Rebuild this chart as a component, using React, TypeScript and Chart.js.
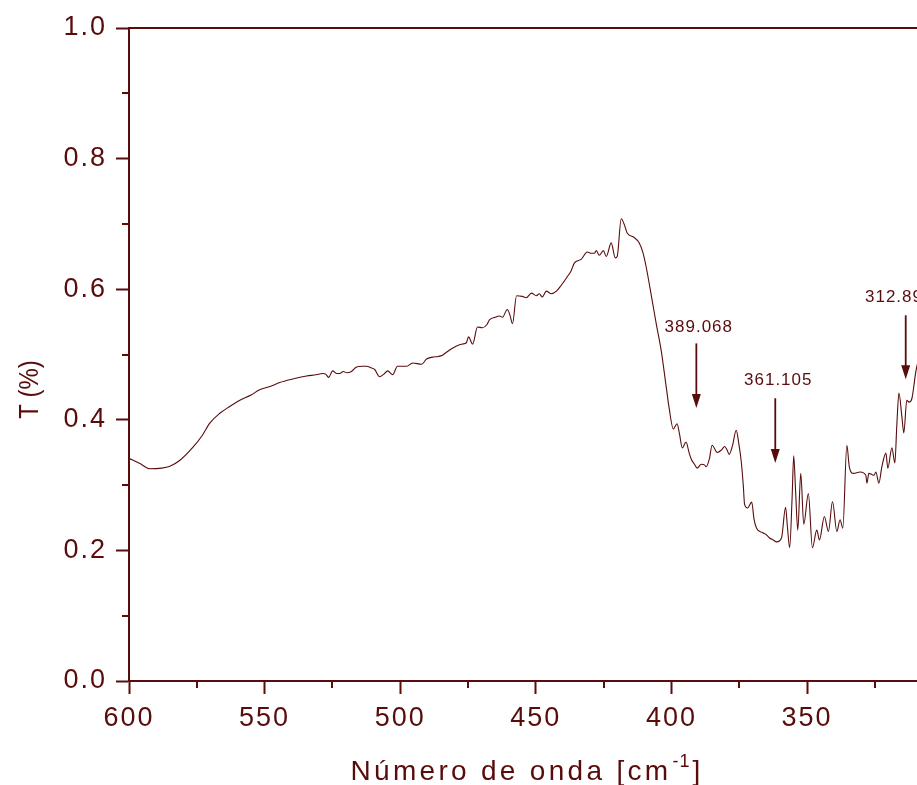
import React, { useEffect, useRef } from 'react';
import { Chart, registerables } from 'chart.js';

Chart.register(...registerables);

// Wavenumber (cm^-1), descending as plotted left -> right
const wavenumbers = [
  600, 596, 592.3, 588, 584.9, 581.2, 576.4, 573, 570.2, 566.5, 563, 559.1, 555, 551.8, 548, 544.4,
  540, 534.5, 531, 528.6, 527.5, 526.4, 524.9, 523.5, 522.3, 521, 519.7, 518, 516.1, 514, 512.4, 511,
  509.4, 507.6, 506, 504.6, 502.8, 501, 499, 497.6, 495.4, 492.1, 490.3, 488.1, 486, 484.4, 481.8,
  479.2, 477, 475.6, 474.8, 473.3, 471.5, 469.7, 468, 467.1, 465, 463.4, 462.3, 460.5, 459.5, 458.6,
  457.1, 455, 453.5, 451.6, 449.8, 448.7, 447.6, 446.1, 444.3, 442.4, 440.6, 438.4, 437, 435.8, 433.2,
  431, 429.5, 428.4, 427.7, 426.6, 425.1, 424, 422.2, 420.7, 420, 418.5, 417.2, 416.3, 414, 411.9,
  410.5, 409.3, 407.1, 405.5, 403.8, 401.9, 400.8, 399.3, 397.9, 397, 396, 394.6, 393.5, 392.7, 391.5,
  390.5, 389.0, 387.8, 387.2, 386, 385.0, 383.1, 381.5, 380.4, 379.5, 378.7, 377.5, 376.1, 375.2,
  374.3, 373.5, 373.0, 371.9, 370.4, 369.5, 368.6, 366.3, 365, 363.8, 362.5, 361.2, 359.4, 357.9,
  357.2, 356.4, 355.5, 354.9, 354.2, 353.4, 352.3, 351.2, 349.5, 348.0, 346.4, 345.4, 343.6, 342.1,
  340.6, 339.0, 337.8, 336.8, 335.3, 334.4, 332.9, 330.4, 328.3, 327.9, 327.2, 326, 325.3, 324.6,
  323.5, 322.4, 320.9, 320.2, 318.7, 317.6, 316.9, 316.1, 315.0, 314.3, 313.2, 312.4, 311.3, 309.9,
  308.5,
];

// Transmittance (fraction)
const transmittance = [
  0.341, 0.333, 0.325, 0.326, 0.329, 0.338, 0.358, 0.376, 0.395, 0.410, 0.420, 0.430, 0.438, 0.446, 0.451, 0.457,
  0.462, 0.467, 0.469, 0.471, 0.470, 0.465, 0.475, 0.471, 0.471, 0.474, 0.472, 0.474, 0.481, 0.482, 0.482, 0.480,
  0.477, 0.466, 0.470, 0.475, 0.469, 0.482, 0.482, 0.482, 0.487, 0.485, 0.493, 0.496, 0.497, 0.499, 0.507,
  0.513, 0.516, 0.518, 0.527, 0.516, 0.542, 0.541, 0.546, 0.553, 0.557, 0.559, 0.557, 0.569, 0.560, 0.547,
  0.590, 0.589, 0.587, 0.594, 0.590, 0.593, 0.588, 0.597, 0.593, 0.597, 0.606, 0.619, 0.628, 0.640, 0.646,
  0.657, 0.655, 0.655, 0.659, 0.652, 0.659, 0.650, 0.671, 0.648, 0.650, 0.708, 0.697, 0.686, 0.680, 0.671,
  0.656, 0.634, 0.583, 0.545, 0.507, 0.450, 0.417, 0.386, 0.394, 0.378, 0.357, 0.366, 0.350, 0.340, 0.332,
  0.326, 0.332, 0.331, 0.328, 0.340, 0.361, 0.350, 0.354, 0.359, 0.354, 0.347, 0.360, 0.384, 0.365,
  0.338, 0.300, 0.270, 0.265, 0.274, 0.247, 0.234, 0.227, 0.224, 0.219, 0.216, 0.213, 0.219, 0.266,
  0.235, 0.204, 0.280, 0.345, 0.290, 0.231, 0.318, 0.240, 0.287, 0.204, 0.231, 0.216, 0.252, 0.229,
  0.275, 0.229, 0.247, 0.234, 0.361, 0.328, 0.318, 0.320, 0.315, 0.303, 0.318, 0.316, 0.315, 0.320,
  0.303, 0.328, 0.349, 0.326, 0.357, 0.334, 0.390, 0.441, 0.404, 0.380, 0.430, 0.427, 0.433, 0.473,
  0.500,
];

// Peak annotations
const peakLabels = ['389.068', '361.105', '312.894'];
const peakX = [390.8, 361.7, 313.6];
const labelX = [389.9, 360.6, 316.0];
const arrowTopY = [0.517, 0.433, 0.56];
const arrowTipY = [0.418, 0.334, 0.462];
const labelY = [0.542, 0.461, 0.588];

const xTitle = 'Número de onda [cm';
const xTitleSup = '-1';
const xTitleEnd = ']';
const yTitle = 'T (%)';

const COLOR = '#580c0c';
const FONT = '"Liberation Sans", Arial, sans-serif';

const isMajorY = (v: number) => Math.round(v * 10) % 2 === 0;
const isMajorX = (v: number) => Math.round(v) % 50 === 0;

const decorPlugin = {
  id: 'decor',
  beforeUpdate(chart: any) {
    chart.ctx.letterSpacing = '2px';
  },
  beforeDraw(chart: any) {
    chart.ctx.letterSpacing = '2px';
  },
  afterDraw(chart: any) {
    const ctx = chart.ctx;
    const { left, right, top, bottom } = chart.chartArea;
    const xs = chart.scales.x;
    const ys = chart.scales.y;
    ctx.save();
    ctx.strokeStyle = COLOR;
    ctx.fillStyle = COLOR;
    // top frame line
    ctx.lineWidth = 2;
    ctx.beginPath();
    ctx.moveTo(left - 1, top);
    ctx.lineTo(right, top);
    ctx.stroke();
    // minor ticks
    ctx.lineWidth = 2;
    ys.ticks.forEach((t: any) => {
      if (!isMajorY(t.value)) {
        const py = Math.round(ys.getPixelForValue(t.value));
        ctx.beginPath();
        ctx.moveTo(left - 7, py);
        ctx.lineTo(left, py);
        ctx.stroke();
      }
    });
    xs.ticks.forEach((t: any) => {
      if (!isMajorX(t.value)) {
        const px = Math.round(xs.getPixelForValue(t.value));
        ctx.beginPath();
        ctx.moveTo(px, bottom);
        ctx.lineTo(px, bottom + 7);
        ctx.stroke();
      }
    });

    // peak arrows and labels
    ctx.beginPath();
    ctx.rect(left, top - 40, right - left, bottom - top + 40);
    ctx.clip();
    ctx.letterSpacing = '1px';
    ctx.font = '17px ' + FONT;
    ctx.textAlign = 'center';
    ctx.textBaseline = 'middle';
    peakLabels.forEach((lab, i) => {
      const px = xs.getPixelForValue(peakX[i]);
      const pTop = ys.getPixelForValue(arrowTopY[i]);
      const pTip = ys.getPixelForValue(arrowTipY[i]);
      const pLab = ys.getPixelForValue(labelY[i]);
      ctx.lineWidth = 1.8;
      ctx.beginPath();
      ctx.moveTo(px, pTop);
      ctx.lineTo(px, pTip - 10);
      ctx.stroke();
      ctx.beginPath();
      ctx.moveTo(px - 4.5, pTip - 14);
      ctx.lineTo(px + 4.5, pTip - 14);
      ctx.lineTo(px, pTip);
      ctx.closePath();
      ctx.fill();
      ctx.fillText(lab, xs.getPixelForValue(labelX[i]), pLab);
    });
    ctx.restore();

    // axis titles
    ctx.save();
    ctx.fillStyle = COLOR;
    ctx.textBaseline = 'alphabetic';
    ctx.textAlign = 'left';
    ctx.letterSpacing = '3.3px';
    ctx.font = '28px ' + FONT;
    const w1 = ctx.measureText(xTitle).width;
    const w3 = ctx.measureText(xTitleEnd).width;
    ctx.font = '18px ' + FONT;
    ctx.letterSpacing = '1px';
    const w2 = ctx.measureText(xTitleSup).width;
    const total = w1 + w2 + 3 + w3;
    const cx = (left + right) / 2 + 4;
    const x0 = cx - total / 2;
    const base = bottom + 99;
    ctx.letterSpacing = '3.3px';
    ctx.font = '28px ' + FONT;
    ctx.fillText(xTitle, x0, base);
    ctx.font = '18px ' + FONT;
    ctx.letterSpacing = '1px';
    ctx.fillText(xTitleSup, x0 + w1 + 1, base - 13);
    ctx.letterSpacing = '3.3px';
    ctx.font = '28px ' + FONT;
    ctx.fillText(xTitleEnd, x0 + w1 + w2 + 3, base);

    ctx.letterSpacing = '0px';
    ctx.font = '24px ' + FONT;
    ctx.textAlign = 'center';
    ctx.textBaseline = 'middle';
    ctx.translate(30, (top + bottom) / 2 + 35);
    ctx.rotate(-Math.PI / 2);
    ctx.scale(1, 1.15);
    ctx.fillText(yTitle, 0, 0);
    ctx.restore();
  },
};

export default function App() {
  const ref = useRef<HTMLCanvasElement>(null);
  useEffect(() => {
    if (!ref.current) return;
    const points = wavenumbers.map((x, i) => ({ x, y: transmittance[i] }));
    const chart = new Chart(ref.current, {
      type: 'line',
      data: {
        datasets: [
          {
            label: 'T',
            data: points,
            borderColor: COLOR,
            borderWidth: 1.1,
            pointRadius: 0,
            cubicInterpolationMode: 'monotone',
            fill: false,
          },
        ],
      },
      options: {
        responsive: false,
        animation: false,
        devicePixelRatio: 1,
        layout: { padding: { top: 28, right: 0, left: 0, bottom: 0 } },
        plugins: { legend: { display: false }, tooltip: { enabled: false }, title: { display: false } },
        scales: {
          x: {
            type: 'linear',
            reverse: true,
            min: 309.44,
            max: 600,
            afterFit: (s: any) => {
              s.height = 104;
            },
            ticks: {
              stepSize: 25,
              includeBounds: false,
              autoSkip: false,
              maxRotation: 0,
              padding: 8,
              color: COLOR,
              font: { family: FONT, size: 27 },
              callback: (v: any) => (isMajorX(Number(v)) ? String(Math.round(Number(v))) : ''),
            },
            grid: {
              display: true,
              drawOnChartArea: false,
              drawTicks: true,
              tickLength: 13,
              tickWidth: 2,
              tickColor: (c: any) => (c.tick && isMajorX(c.tick.value) ? COLOR : 'rgba(0,0,0,0)'),
            },
            border: { display: true, color: COLOR, width: 2 },
          },
          y: {
            type: 'linear',
            min: 0,
            max: 1,
            afterFit: (s: any) => {
              s.width = 129;
            },
            ticks: {
              stepSize: 0.1,
              autoSkip: false,
              padding: 9,
              color: COLOR,
              font: { family: FONT, size: 27 },
              callback: (v: any) => (isMajorY(Number(v)) ? Number(v).toFixed(1) : ''),
            },
            grid: {
              display: true,
              drawOnChartArea: false,
              drawTicks: true,
              tickLength: 13,
              tickWidth: 2,
              tickColor: (c: any) => (c.tick && isMajorY(c.tick.value) ? COLOR : 'rgba(0,0,0,0)'),
            },
            border: { display: true, color: COLOR, width: 2 },
          },
        },
      },
      plugins: [decorPlugin],
    });
    return () => chart.destroy();
  }, []);
  return (
    <div style={{ position: 'fixed', left: 0, top: 0, width: 917, height: 785, background: '#fff' }}>
      <canvas ref={ref} width={917} height={785} style={{ display: 'block', width: 917, height: 785 }} />
    </div>
  );
}
